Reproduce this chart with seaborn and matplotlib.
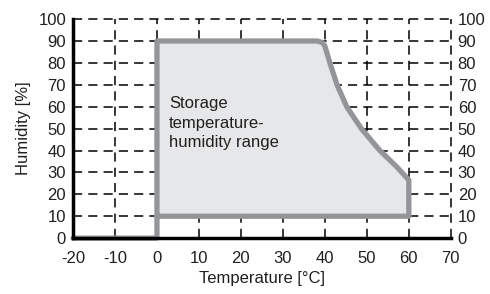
import numpy as np
import pandas as pd
import seaborn as sns
import matplotlib
matplotlib.use('Agg')
import matplotlib.pyplot as plt

# Storage range outline (temperature degC, humidity %)
temp = [-20, 0, 0, 38.2, 39.4, 40.0, 41.2, 42.9, 45.2, 48.7, 53.1, 57.1, 60, 60, 0]
humid = [0, 0, 90, 90, 89.3, 87.7, 80, 70, 60, 50, 40, 32.6, 26.5, 10, 10]
x_ticks = [-20, -10, 0, 10, 20, 30, 40, 50, 60, 70]
y_ticks = [0, 10, 20, 30, 40, 50, 60, 70, 80, 90, 100]
label = "Storage\ntemperature-\nhumidity range"

df = pd.DataFrame({'temp': temp, 'humid': humid})
region = df.iloc[2:]

sns.set_style('white')
plt.rcParams['font.family'] = ['Liberation Sans', 'DejaVu Sans']
plt.rcParams['axes.unicode_minus'] = False

fig = plt.figure(figsize=(4.9, 2.94), dpi=100)
ax = fig.add_axes([0.149, 0.19, 0.771, 0.745])

ax.fill(region['temp'], region['humid'], color='#e6e7e8', zorder=2)
sns.lineplot(data=df, x='temp', y='humid', sort=False, estimator=None,
             color='#939598', lw=3.8, ax=ax, zorder=3, clip_on=False)

ax.set_xlim(-20, 70)
ax.set_ylim(0, 100)
ax.set_xticks(x_ticks)
ax.set_yticks(y_ticks)
ax.set_xticklabels([str(t) for t in x_ticks])
ax.grid(True, color='black', linestyle=(0, (6, 4)), lw=1.1)
ax.set_axisbelow(True)
for g in ax.get_xgridlines() + ax.get_ygridlines():
    g.set_clip_on(False)

for s in ['top', 'right']:
    ax.spines[s].set_visible(False)
for s in ['left', 'bottom']:
    ax.spines[s].set_color('black')
    ax.spines[s].set_linewidth(2.5)
    ax.spines[s].set_zorder(4)

ax.tick_params(axis='both', length=0, labelsize=12, colors='#231f20')
ax.tick_params(axis='y', labelright=True, pad=5)
ax.tick_params(axis='x', pad=9)

ax.text(2.9, 65, label, fontsize=12, va='top', ha='left', color='#231f20',
        linespacing=1.4, zorder=5)

ax.set_xlabel('Temperature [°C]', fontsize=12, color='#231f20', labelpad=4)
ax.set_ylabel('Humidity [%]', fontsize=12, color='#231f20', labelpad=5)

fig.savefig('out.png', dpi=100)
